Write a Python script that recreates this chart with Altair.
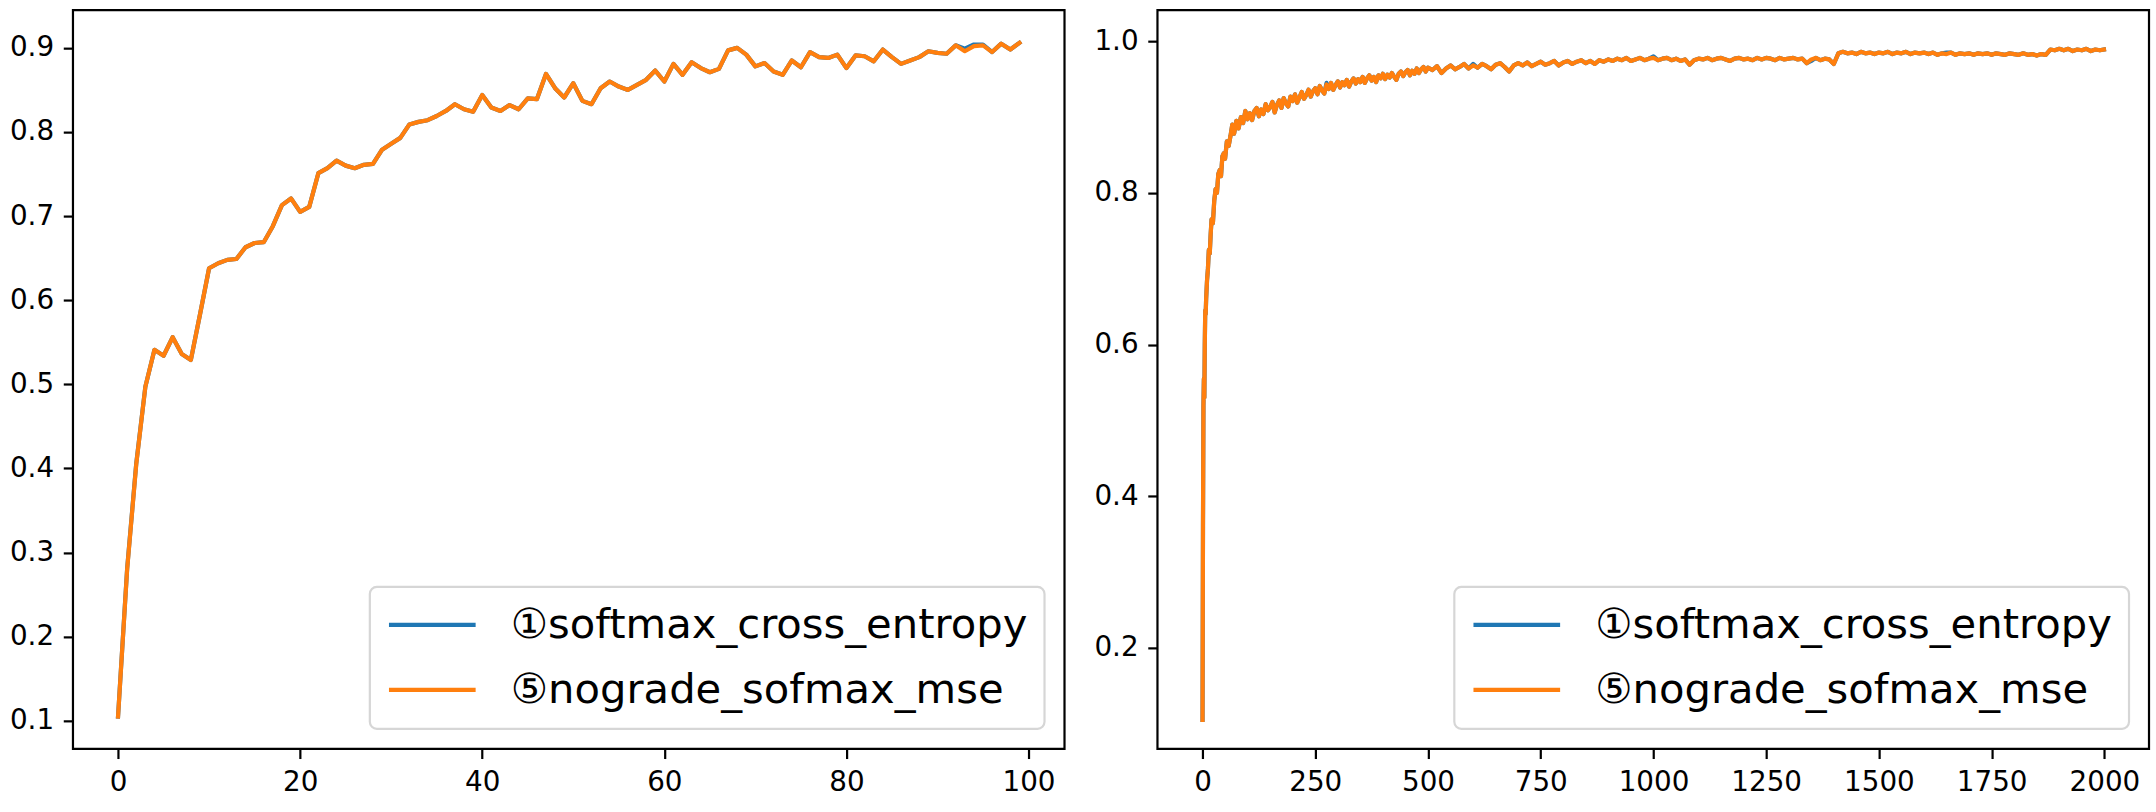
import altair as alt
import pandas as pd

SERIES = ["①softmax_cross_entropy", "⑤nograde_sofmax_mse"]
COLORS = ["#1f77b4", "#ff7f0e"]

# ---- left panel: 100 epochs ----
epoch_x = list(range(100))
mse_epoch = [
    0.105, 0.280, 0.405, 0.497, 0.541, 0.534, 0.556, 0.536, 0.529, 0.583,
    0.638, 0.644, 0.648, 0.649, 0.663, 0.668, 0.669, 0.688, 0.713, 0.721,
    0.705, 0.711, 0.751, 0.757, 0.766, 0.760, 0.757, 0.761, 0.762, 0.779,
    0.786, 0.793, 0.809, 0.812, 0.814, 0.819, 0.825, 0.833, 0.827, 0.824,
    0.844, 0.829, 0.825, 0.832, 0.827, 0.840, 0.839, 0.869, 0.852, 0.841,
    0.858, 0.837, 0.833, 0.852, 0.860, 0.854, 0.850, 0.856, 0.862, 0.873,
    0.860, 0.881, 0.868, 0.883, 0.876, 0.871, 0.875, 0.897, 0.900, 0.892,
    0.878, 0.882, 0.872, 0.868, 0.885, 0.877, 0.895, 0.889, 0.888, 0.892,
    0.876, 0.891, 0.890, 0.884, 0.898, 0.889, 0.881, 0.885, 0.889, 0.896,
    0.894, 0.893, 0.903, 0.896, 0.902, 0.903, 0.895, 0.905, 0.898, 0.906,
]
ce_epoch = [
    0.105, 0.281, 0.406, 0.497, 0.541, 0.534, 0.556, 0.536, 0.529, 0.583,
    0.638, 0.644, 0.648, 0.649, 0.663, 0.668, 0.669, 0.688, 0.713, 0.721,
    0.705, 0.711, 0.751, 0.757, 0.766, 0.760, 0.757, 0.761, 0.762, 0.779,
    0.786, 0.793, 0.809, 0.812, 0.814, 0.819, 0.825, 0.833, 0.827, 0.824,
    0.844, 0.829, 0.825, 0.832, 0.827, 0.840, 0.839, 0.869, 0.852, 0.841,
    0.858, 0.837, 0.833, 0.852, 0.860, 0.854, 0.850, 0.856, 0.862, 0.873,
    0.860, 0.881, 0.868, 0.883, 0.876, 0.871, 0.875, 0.897, 0.900, 0.892,
    0.878, 0.882, 0.872, 0.868, 0.885, 0.877, 0.895, 0.889, 0.888, 0.892,
    0.876, 0.891, 0.890, 0.884, 0.898, 0.889, 0.881, 0.885, 0.889, 0.896,
    0.894, 0.893, 0.903, 0.899, 0.904, 0.904, 0.895, 0.905, 0.898, 0.906,
]

# ---- right panel: 2000 steps ----
step_x = [0, 1, 2, 3, 4, 5, 6, 7, 8, 10, 12, 14, 16, 18, 20, 23, 26, 29, 32, 35,
          38, 41, 44, 47, 50, 54, 58, 62, 66, 70, 75, 80, 85, 90, 95, 100] + \
         list(range(105, 505, 5)) + list(range(510, 2000, 10)) + [1999]
mse_step = [
    0.105, 0.360, 0.520, 0.555, 0.530, 0.600, 0.645, 0.640, 0.660, 0.685,
    0.700, 0.725, 0.720, 0.745, 0.765, 0.760, 0.790, 0.805, 0.800, 0.825,
    0.830, 0.822, 0.848, 0.852, 0.845, 0.868, 0.862, 0.875, 0.890, 0.878,
    0.895, 0.885, 0.900, 0.892, 0.908, 0.897,
    # 105-200 (every 5)
    0.905, 0.896, 0.908, 0.912, 0.901, 0.910, 0.904, 0.917, 0.909, 0.913,
    0.920, 0.906, 0.916, 0.922, 0.912, 0.925, 0.918, 0.914, 0.927, 0.921,
    # 205-300
    0.930, 0.919, 0.926, 0.933, 0.924, 0.929, 0.936, 0.927, 0.934, 0.938,
    0.930, 0.941, 0.935, 0.931, 0.943, 0.937, 0.945, 0.936, 0.942, 0.947,
    # 305-400
    0.939, 0.946, 0.942, 0.949, 0.940, 0.947, 0.951, 0.944, 0.950, 0.946,
    0.953, 0.945, 0.951, 0.955, 0.948, 0.953, 0.946, 0.955, 0.951, 0.957,
    # 405-500
    0.950, 0.956, 0.952, 0.958, 0.953, 0.949, 0.957, 0.960, 0.954, 0.959,
    0.962, 0.955, 0.961, 0.957, 0.964, 0.958, 0.963, 0.966, 0.960, 0.965,
    # 510-600 (every 10)
    0.962, 0.967, 0.958, 0.964, 0.968, 0.963, 0.966, 0.970, 0.964, 0.968,
    # 610-700
    0.965, 0.970, 0.967, 0.963, 0.969, 0.971, 0.966, 0.960, 0.968, 0.971,
    # 710-800
    0.968, 0.972, 0.967, 0.970, 0.973, 0.969, 0.971, 0.974, 0.968, 0.972,
    # 810-900
    0.974, 0.970, 0.973, 0.975, 0.971, 0.974, 0.970, 0.975, 0.973, 0.976,
    # 910-1000
    0.974, 0.977, 0.975, 0.978, 0.974, 0.976, 0.978, 0.975, 0.977, 0.978,
    # 1010-1100
    0.975, 0.977, 0.978, 0.975, 0.977, 0.974, 0.976, 0.969, 0.975, 0.977,
    # 1110-1200
    0.976, 0.978, 0.975, 0.977, 0.978, 0.976, 0.974, 0.977, 0.978, 0.976,
    # 1210-1300
    0.977, 0.975, 0.978, 0.976, 0.978, 0.977, 0.975, 0.978, 0.976, 0.977,
    # 1310-1400
    0.978, 0.976, 0.977, 0.971, 0.976, 0.978, 0.975, 0.977, 0.976, 0.970,
    # 1410-1500
    0.984, 0.986, 0.984, 0.985, 0.983, 0.986, 0.984, 0.985, 0.983, 0.985,
    # 1510-1600
    0.984, 0.986, 0.983, 0.985, 0.984, 0.986, 0.983, 0.985, 0.984, 0.985,
    # 1610-1700
    0.983, 0.985, 0.982, 0.984, 0.983, 0.985, 0.982, 0.984, 0.983, 0.984,
    # 1710-1800
    0.982, 0.984, 0.983, 0.984, 0.982, 0.984, 0.983, 0.982, 0.984, 0.983,
    # 1810-1900
    0.982, 0.984, 0.982, 0.983, 0.981, 0.983, 0.982, 0.989, 0.988, 0.990,
    # 1910-1990, 1999
    0.988, 0.990, 0.987, 0.989, 0.988, 0.990, 0.987, 0.989, 0.988, 0.989,
]
# cross-entropy run: same curve, except a few points where the blue edge peeks out
ce_step_diff_idx = [70, 125, 165, 200, 230]
ce_step_diff_delta = [0.002, 0.002, 0.002, -0.002, 0.002]
ce_step = list(mse_step)
for i, d in zip(ce_step_diff_idx, ce_step_diff_delta):
    ce_step[i] = round(mse_step[i] + d, 4)

left_df = pd.DataFrame({
    "x": epoch_x + epoch_x,
    "y": ce_epoch + mse_epoch,
    "series": [SERIES[0]] * len(epoch_x) + [SERIES[1]] * len(epoch_x),
})
right_df = pd.DataFrame({
    "x": step_x + step_x,
    "y": ce_step + mse_step,
    "series": [SERIES[0]] * len(step_x) + [SERIES[1]] * len(step_x),
})

FONT = "DejaVu Sans"


def panel(df, xdom, ydom, xticks, yticks, yfmt):
    base = alt.Chart(df).encode(
        x=alt.X("x:Q", scale=alt.Scale(domain=xdom, nice=False, zero=False),
                axis=alt.Axis(values=xticks, title=None, format="d")),
        y=alt.Y("y:Q", scale=alt.Scale(domain=ydom, nice=False, zero=False),
                axis=alt.Axis(values=yticks, title=None, format=yfmt)),
        color=alt.Color(
            "series:N",
            scale=alt.Scale(domain=SERIES, range=COLORS),
            legend=alt.Legend(
                title=None, orient="bottom-right", offset=20, padding=17,
                fillColor="white", strokeColor="#d6d6d6", cornerRadius=7,
                symbolType="stroke", symbolSize=7517, symbolStrokeWidth=4.2,
                labelFont=FONT, labelFontSize=41.7, labelColor="black",
                labelLimit=2000, labelOffset=33, rowPadding=22, clipHeight=42,
            ),
        ),
        order=alt.value(0),
    )
    line_kw = dict(strokeWidth=4.2, strokeJoin="round", strokeCap="square")
    blue = base.transform_filter(alt.datum.series == SERIES[0]).mark_line(**line_kw)
    orange = base.transform_filter(alt.datum.series == SERIES[1]).mark_line(**line_kw)
    return alt.layer(blue, orange).properties(width=992, height=739)


left = panel(left_df, [-4.95, 103.95], [0.0667, 0.9448],
             [0, 20, 40, 60, 80, 100],
             [0.1, 0.2, 0.3, 0.4, 0.5, 0.6, 0.7, 0.8, 0.9], ".1f")
right = panel(right_df, [-99.95, 2098.95], [0.0669, 1.0409],
              [0, 250, 500, 750, 1000, 1250, 1500, 1750, 2000],
              [0.2, 0.4, 0.6, 0.8, 1.0], ".1f")

chart = alt.hconcat(left, right, spacing=26).resolve_legend(
    color="independent"
).properties(
    padding={"left": 8, "top": 8, "right": 5, "bottom": 5},
    background="white",
).configure_view(
    stroke="black", strokeWidth=2.2
).configure_axis(
    grid=False, domain=False, tickColor="black", tickWidth=2.2, tickSize=9.7,
    labelPadding=9.7, labelFont=FONT, labelFontSize=27.8, labelColor="black",
).configure_legend(
    strokeWidth=2.2
)

chart.save("out.html", embed_options={"renderer": "svg", "actions": False})
